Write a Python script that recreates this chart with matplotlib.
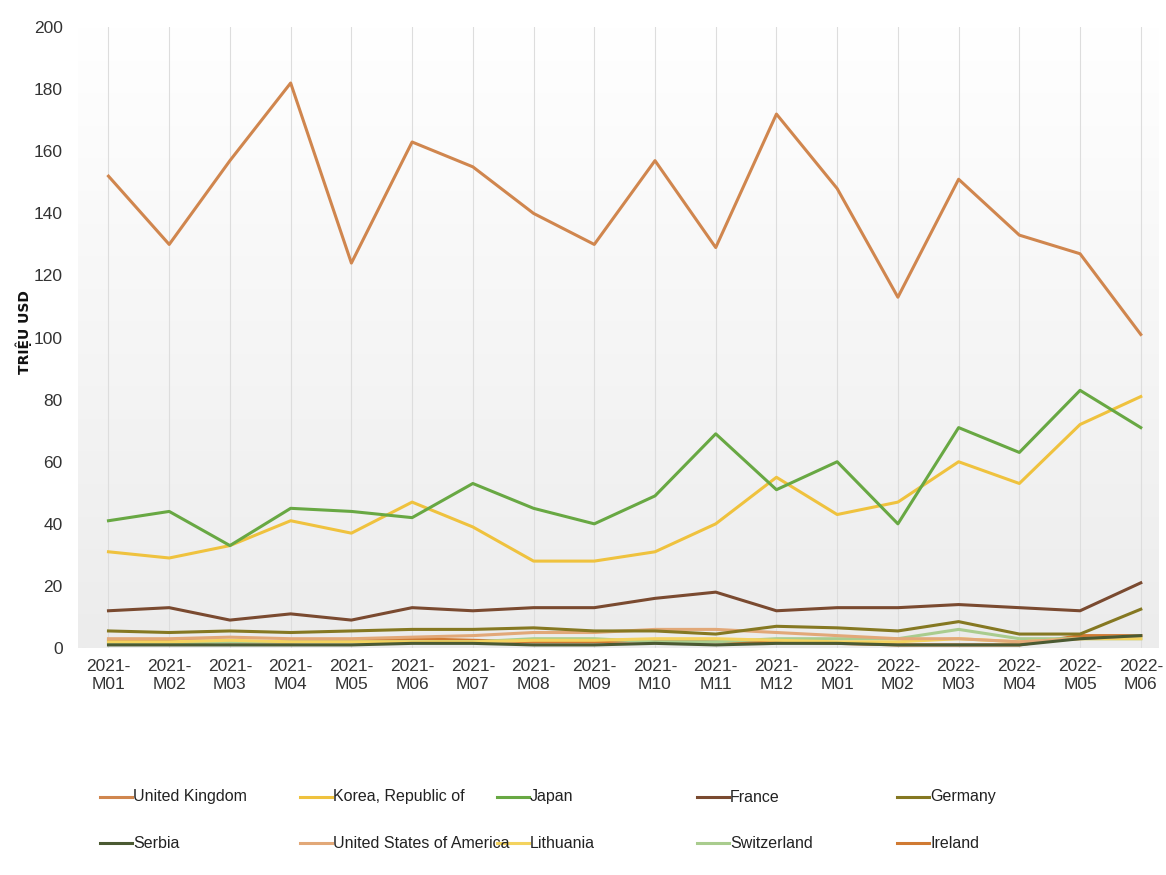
import numpy as np
import matplotlib
matplotlib.use("Agg")
import matplotlib.pyplot as plt
from matplotlib.lines import Line2D
from matplotlib.colors import LinearSegmentedColormap

# Monthly values, million USD
months = ["2021-\nM01", "2021-\nM02", "2021-\nM03", "2021-\nM04", "2021-\nM05", "2021-\nM06",
          "2021-\nM07", "2021-\nM08", "2021-\nM09", "2021-\nM10", "2021-\nM11", "2021-\nM12",
          "2022-\nM01", "2022-\nM02", "2022-\nM03", "2022-\nM04", "2022-\nM05", "2022-\nM06"]

united_kingdom = [152, 130, 157, 182, 124, 163, 155, 140, 130, 157, 129, 172, 148, 113, 151, 133, 127, 101]
korea = [31, 29, 33, 41, 37, 47, 39, 28, 28, 31, 40, 55, 43, 47, 60, 53, 72, 81]
japan = [41, 44, 33, 45, 44, 42, 53, 45, 40, 49, 69, 51, 60, 40, 71, 63, 83, 71]
france = [12, 13, 9, 11, 9, 13, 12, 13, 13, 16, 18, 12, 13, 13, 14, 13, 12, 21]
germany = [5.5, 5, 5.5, 5, 5.5, 6, 6, 6.5, 5.5, 5.5, 4.5, 7, 6.5, 5.5, 8.5, 4.5, 4.5, 12.5]
serbia = [1, 1, 1, 1, 1, 1.5, 1.5, 1, 1, 1.5, 1, 1.5, 1.5, 1, 1, 1, 3, 4]
usa = [3, 3, 3.5, 3, 3, 3.5, 4, 5, 5, 6, 6, 5, 4, 3, 3, 2, 3, 4]
lithuania = [2, 2, 2.5, 2, 2, 2, 2, 2.5, 2.5, 3, 3, 2.5, 2, 2, 3, 2, 3, 3]
switzerland = [1.5, 1.5, 2, 2, 2, 2, 2, 3, 3, 2, 2, 3, 3, 3, 6, 3, 3, 3]
ireland = [2.5, 2.5, 2, 2, 2.5, 3, 2.5, 2, 2, 2.5, 2, 2, 1.5, 1, 1, 1, 4, 4]

names = ["United Kingdom", "Korea, Republic of", "Japan", "France", "Germany",
         "Serbia", "United States of America", "Lithuania", "Switzerland", "Ireland"]
colors = ["#d0864e", "#efc23e", "#68a843", "#7a4a30", "#857822",
          "#4b5a32", "#e2a878", "#f4d35e", "#a9cc8e", "#d07a32"]
series = [united_kingdom, korea, japan, france, germany,
          serbia, usa, lithuania, switzerland, ireland]

plt.rcParams["font.family"] = ["Liberation Sans", "DejaVu Sans"]

fig = plt.figure(figsize=(11.66, 8.75), dpi=100)
ax = fig.add_axes([0.067, 0.2594, 0.927, 0.7096])

x = np.arange(len(months))

# white at the top fading to light grey at the bottom
grad = np.linspace(0.0, 1.0, 256).reshape(-1, 1)
ax.imshow(grad, extent=[0, 1, 0, 1], transform=ax.transAxes, aspect="auto",
          cmap=LinearSegmentedColormap.from_list("g", ["#ffffff", "#ececec"]),
          origin="upper", zorder=0)

# draw small series first so the big ones sit on top
order = [9, 8, 7, 6, 5, 4, 3, 1, 2, 0]
for i in order:
    ax.plot(x, series[i], color=colors[i], lw=2.2, zorder=3, solid_joinstyle="round")

ax.set_xlim(-0.5, 17.3)
ax.set_ylim(0, 200)
ax.set_yticks(range(0, 201, 20))
ax.set_xticks(x)
ax.set_xticklabels(months)
ax.tick_params(axis="both", length=0, labelsize=12.5, colors="#333333")
ax.tick_params(axis="x", pad=8)
ax.tick_params(axis="y", pad=11)
ax.grid(axis="x", color="#dddddd", lw=0.8, zorder=1)
for s in ax.spines.values():
    s.set_visible(False)

fig.text(0.020, 0.62, "TRIỆU USD", rotation=90, fontsize=10, fontweight="bold",
         family="DejaVu Sans", ha="center", va="center", color="#111111")

# legend: 2 rows x 5 fixed-width columns
col_x = [100, 300, 497, 697, 897]
row_y = [797, 843]
W, H = 1166.0, 875.0
for k, (name, c) in enumerate(zip(names, colors)):
    r, col = divmod(k, 5)
    x0 = col_x[col] / W
    y0 = 1 - row_y[r] / H
    fig.add_artist(Line2D([x0, x0 + 32 / W], [y0, y0], color=c, lw=2.2,
                          transform=fig.transFigure))
    fig.text(x0 + 33 / W, y0, name, fontsize=11.5, color="#222222", va="center", ha="left")

fig.savefig("out.png", dpi=100)
